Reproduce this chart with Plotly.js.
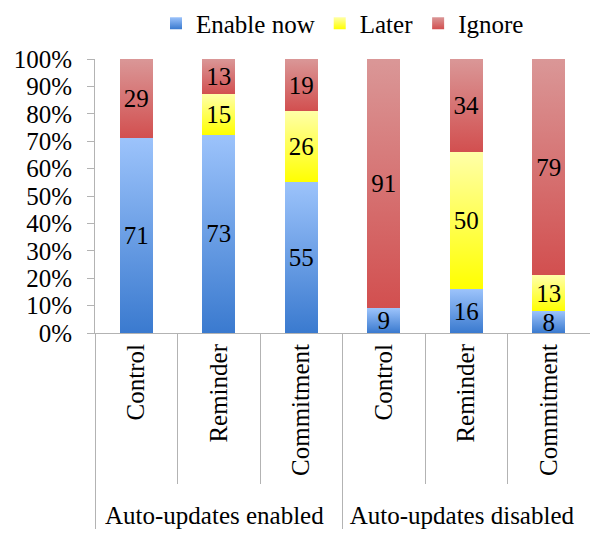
<!DOCTYPE html>
<html><head><meta charset="utf-8">
<script src="https://cdn.plot.ly/plotly-3.0.1.min.js"></script>
<style>html,body{margin:0;padding:0;background:#fff}#chart{width:590px;height:533px}
#prime{position:absolute;left:2px;top:2px;z-index:10;font-family:'Liberation Serif';font-size:12px;line-height:12px;color:#fff}</style>
</head><body>
<div id="prime" aria-hidden="true">Aa</div>
<div id="chart"></div>
<script>
const groups = ["Auto-updates enabled", "Auto-updates disabled"];
const conditions = ["Control", "Reminder", "Commitment"];
const enableNow = [71, 73, 55, 9, 16, 8];
const later = [0, 15, 26, 0, 50, 13];
const ignore = [29, 13, 19, 91, 34, 79];
const seriesNames = ["Enable now", "Later", "Ignore"];
const seriesColors = ["#6a9de6", "#ffff33", "#d77070"];
const gradStops = [["#9cc3fb", "#3a7acf"], ["#ffffa8", "#ffff00"], ["#da9797", "#d24f4f"]];

const outer = [], inner = [];
groups.forEach(g => conditions.forEach(c => { outer.push(g); inner.push(c); }));
const F = "Liberation Serif";
const FS = 25;

const traces = [enableNow, later, ignore].map((vals, i) => ({
  type: "bar",
  name: seriesNames[i],
  x: [outer, inner],
  y: vals,
  text: vals.map(v => v > 0 ? String(v) : ""),
  textposition: "inside",
  insidetextanchor: "middle",
  textangle: 0,
  constraintext: "none",
  textfont: {family: F, size: FS, color: "#000"},
  marker: {color: seriesColors[i], line: {width: 0}}
}));

const layout = {
  width: 590, height: 533,
  margin: {l: 95, r: 0, t: 56, b: 200},
  barmode: "stack",
  barnorm: "percent",
  bargap: 0.6,
  showlegend: true,
  legend: {orientation: "h", x: 0.5, xanchor: "center", y: 1.13, yanchor: "middle", traceorder: "normal"},
  font: {family: F, size: FS, color: "#000"},
  xaxis: {type: "multicategory", tickangle: -90, showdividers: true, dividercolor: "#b3b3b3",
          dividerwidth: 1, ticks: "outside", ticklen: 150, tickcolor: "#b3b3b3",
          showline: true, linecolor: "#b3b3b3", linewidth: 1},
  yaxis: {range: [0, 100], dtick: 10, ticksuffix: "%", showgrid: false, zeroline: false,
          showline: true, linecolor: "#b3b3b3", linewidth: 1, ticks: "outside", ticklen: 7,
          ticklabelstandoff: 10, tickcolor: "#b3b3b3"},
  paper_bgcolor: "#fff", plot_bgcolor: "#fff"
};

function applyGradients(gd) {
  const svg = gd.querySelector("svg.main-svg");
  const ns = "http://www.w3.org/2000/svg";
  if (!document.getElementById("grad0")) {
    const defs = document.createElementNS(ns, "defs");
    gradStops.forEach((s, i) => {
      const lg = document.createElementNS(ns, "linearGradient");
      lg.setAttribute("id", "grad" + i);
      lg.setAttribute("x1", "0"); lg.setAttribute("y1", "0");
      lg.setAttribute("x2", "0"); lg.setAttribute("y2", "1");
      [["0%", s[0]], ["100%", s[1]]].forEach(([o, c]) => {
        const st = document.createElementNS(ns, "stop");
        st.setAttribute("offset", o); st.setAttribute("stop-color", c);
        lg.appendChild(st);
      });
      defs.appendChild(lg);
    });
    svg.appendChild(defs);
  }
  gd.querySelectorAll(".barlayer .trace").forEach((tr, i) => {
    tr.querySelectorAll(".point path").forEach(p => { p.style.fill = "url(#grad" + i + ")"; });
  });
  gd.querySelectorAll(".legend .traces").forEach((tr, i) => {
    tr.querySelectorAll(".legendpoints path").forEach(p => { p.style.fill = "url(#grad" + i + ")"; p.style.stroke = "none"; });
  });
}

const cfg = {displayModeBar: false, staticPlot: true};
Plotly.newPlot("chart", traces, layout, cfg).then(applyGradients);
setTimeout(() => {
  Plotly.newPlot("chart", traces, layout, cfg).then(applyGradients);
}, 250);
</script></body></html>
